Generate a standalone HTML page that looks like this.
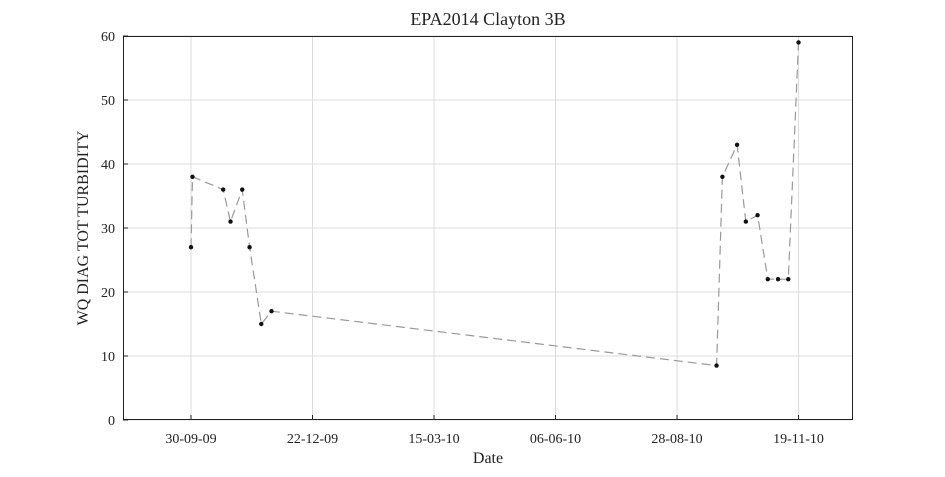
<!DOCTYPE html>
<html><head><meta charset="utf-8"><style>
body{margin:0;background:#fff;}
svg text{font-family:"Liberation Serif","DejaVu Serif",serif;fill:#222;}
</style></head><body>
<svg id="chart" width="945" height="472" xmlns="http://www.w3.org/2000/svg"></svg>
<script>
const dates=["2009-09-30","2009-10-01","2009-10-22","2009-10-27","2009-11-04","2009-11-09","2009-11-17","2009-11-24","2010-09-24","2010-09-28","2010-10-08","2010-10-14","2010-10-22","2010-10-29","2010-11-05","2010-11-12","2010-11-19"];
const values=[27,38,36,31,36,27,15,17,8.5,38,43,31,32,22,22,22,59];
const xTickLabels=["30-09-09","22-12-09","15-03-10","06-06-10","28-08-10","19-11-10"];
const xTickDates=["2009-09-30","2009-12-22","2010-03-15","2010-06-06","2010-08-28","2010-11-19"];
const yTicks=[0,10,20,30,40,50,60];

const svg=document.getElementById('chart');
const NS="http://www.w3.org/2000/svg";
const L=123,R=853,T=36,B=420;
const t0=Date.UTC(2009,8,30);
function day(s){const p=s.split('-');return (Date.UTC(+p[0],p[1]-1,+p[2])-t0)/86400000;}
const dMin=-46.45,dMax=452.2;
const xs=d=>L+(d-dMin)/(dMax-dMin)*(R-L);
const ys=v=>B-v/60*(B-T);
function el(tag,attrs,parent){const e=document.createElementNS(NS,tag);for(const k in attrs)e.setAttribute(k,attrs[k]);(parent||svg).appendChild(e);return e;}

el('rect',{x:L,y:T,width:R-L,height:B-T,fill:'#fff'});
yTicks.forEach(v=>{
  const g=el('line',{x1:L,x2:R,y1:ys(v),y2:ys(v),stroke:'#dcdcdc','stroke-width':1});
  
  
  const tk=el('line',{x1:L,x2:L+5,y1:ys(v),y2:ys(v),stroke:'#222'});
  
  
  const t=el('text',{x:L-8,y:ys(v)+5,'text-anchor':'end','font-size':14});
  t.textContent=v;
  
  
});
xTickDates.forEach((s,i)=>{
  const x=xs(day(s));
  const g=el('line',{x1:x,x2:x,y1:T,y2:B,stroke:'#dcdcdc','stroke-width':1});
  
  
  const tk=el('line',{x1:x,x2:x,y1:B,y2:B-5,stroke:'#222'});
  
  
  const t=el('text',{x:x,y:B+23,'text-anchor':'middle','font-size':14});
  t.textContent=xTickLabels[i];
  
  
});
const frame=el('rect',{x:L+0.5,y:T+0.5,width:R-L-1,height:B-T-1,fill:'none',stroke:'#222','stroke-width':1});



const pts=dates.map((s,i)=>xs(day(s)).toFixed(1)+','+ys(values[i]).toFixed(1)).join(' ');
const line=el('polyline',{points:pts,fill:'none',stroke:'#999','stroke-width':1.2,'stroke-dasharray':'9,5'});


dates.forEach((s,i)=>{
  const c=el('circle',{cx:xs(day(s)),cy:ys(values[i]),r:2.2,fill:'#111'});
  
  
});

const title=el('text',{x:(L+R)/2,y:25,'text-anchor':'middle','font-size':18});
title.textContent='EPA2014 Clayton 3B';


const xl=el('text',{x:(L+R)/2,y:463,'text-anchor':'middle','font-size':16});
xl.textContent='Date';


const yl=el('text',{x:0,y:0,'text-anchor':'middle','font-size':16,transform:'translate(88,'+((T+B)/2)+') rotate(-90)'});
yl.textContent='WQ DIAG TOT TURBIDITY';


</script>
</body></html>
